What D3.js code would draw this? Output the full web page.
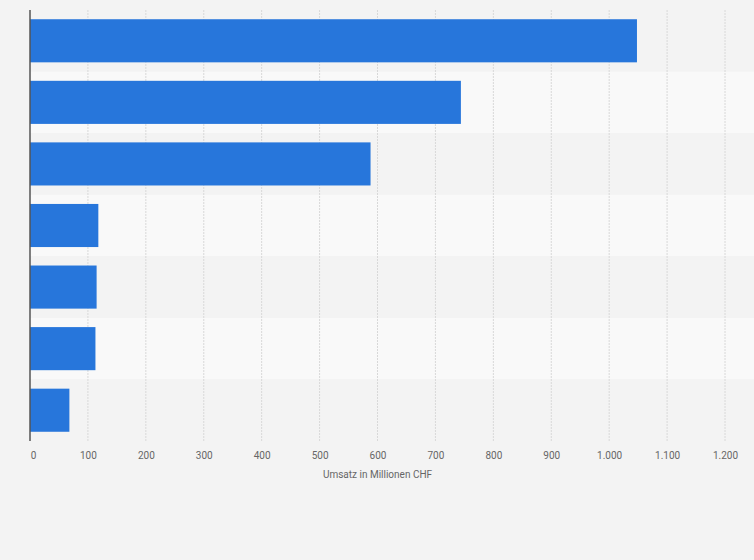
<!DOCTYPE html>
<html><head><meta charset="utf-8">
<script src="https://cdn.jsdelivr.net/npm/d3@7"></script>
<style>body{margin:0;background:#f3f3f3;}svg{display:block;}</style>
</head><body>
<svg id="c" width="754" height="560"></svg>
<script>
const categories = ["A","B","C","D","E","F","G"];
const values = [1048, 744, 588, 118, 115, 113, 68];
const tickValues = [0,100,200,300,400,500,600,700,800,900,1000,1100,1200];
const tickLabels = ["0","100","200","300","400","500","600","700","800","900","1.000","1.100","1.200"];
const axisTitle = "Umsatz in Millionen CHF";

const svg = d3.select("#c");
const m = {l:30, r:29, t:10, b:119};
const W = 754, H = 560;
const x = d3.scaleLinear().domain([0,1200]).range([m.l, W-m.r]);
const y = d3.scaleBand().domain(categories).range([m.t, H-m.b]).paddingInner(0).paddingOuter(0);

svg.append("rect").attr("width",W).attr("height",H).attr("fill","#f3f3f3");
svg.selectAll(".band").data(categories).enter().append("rect")
  .attr("x", m.l).attr("width", W-m.l)
  .attr("y", d=>y(d)).attr("height", y.bandwidth())
  .attr("fill",(d,i)=> i%2 ? "#f9f9f9" : "#f3f3f3");

svg.selectAll(".grid").data(tickValues.slice(1)).enter().append("line")
  .attr("x1",d=>x(d)).attr("x2",d=>x(d)).attr("y1",m.t).attr("y2",H-m.b)
  .attr("stroke","#d8d8d8").attr("stroke-dasharray","2,1");

const pad = y.bandwidth()*0.15;
svg.selectAll(".bar").data(values).enter().append("rect")
  .attr("x", x(0)).attr("y",(d,i)=>y(categories[i])+pad)
  .attr("width", d=>x(d)-x(0)).attr("height", y.bandwidth()-2*pad)
  .attr("fill","#2776db");

svg.append("line").attr("x1",x(0)).attr("x2",x(0)).attr("y1",m.t).attr("y2",H-m.b)
  .attr("stroke","#555").attr("stroke-width",1.5);

const ax = svg.append("g").attr("transform",`translate(0,${H-m.b})`)
  .call(d3.axisBottom(x).tickValues(tickValues).tickFormat((d,i)=>tickLabels[i]).tickSize(0).tickPadding(11));
ax.select(".domain").remove();
ax.selectAll("text").attr("fill","#666").style("font-family","Roboto, Arial, sans-serif").style("font-size","10px")
  .attr("dx",(d)=> d===0 ? 3 : 0);

svg.append("text").attr("x", (x(0)+x(1200))/2).attr("y", 478).attr("text-anchor","middle")
  .attr("fill","#666").style("font-family","Roboto, Arial, sans-serif").style("font-size","10px").text(axisTitle);
</script>
</body></html>
